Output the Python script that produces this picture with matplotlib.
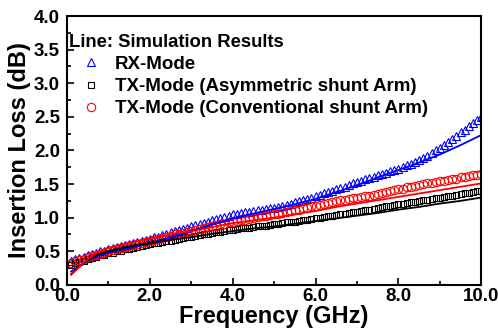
import numpy as np
import matplotlib
matplotlib.use("Agg")
import matplotlib.pyplot as plt
from matplotlib.ticker import MultipleLocator, FormatStrFormatter

plt.rcParams['font.family'] = ['Liberation Sans', 'DejaVu Sans']
plt.rcParams['font.weight'] = 'bold'

# measured points, 0.1 .. 10.0 GHz
freq_meas = np.round(np.arange(1, 101) * 0.1, 1)

rx_meas = [
    0.36, 0.38, 0.40, 0.42, 0.44, 0.46, 0.48, 0.50, 0.51, 0.53,
    0.55, 0.56, 0.58, 0.59, 0.61, 0.62, 0.64, 0.66, 0.67, 0.69,
    0.71, 0.72, 0.74, 0.76, 0.78, 0.80, 0.81, 0.83, 0.85, 0.87,
    0.89, 0.91, 0.92, 0.94, 0.96, 0.98, 1.00, 1.01, 1.03, 1.05,
    1.06, 1.07, 1.08, 1.09, 1.10, 1.11, 1.12, 1.13, 1.14, 1.15,
    1.16, 1.18, 1.19, 1.21, 1.23, 1.25, 1.26, 1.28, 1.30, 1.32,
    1.34, 1.36, 1.38, 1.40, 1.42, 1.44, 1.46, 1.49, 1.51, 1.53,
    1.55, 1.57, 1.59, 1.61, 1.63, 1.65, 1.67, 1.69, 1.71, 1.73,
    1.75, 1.78, 1.80, 1.83, 1.86, 1.89, 1.92, 1.96, 2.00, 2.04,
    2.08, 2.13, 2.17, 2.22, 2.27, 2.31, 2.36, 2.41, 2.45, 2.50,
]

tx_asym_meas = [
    0.30, 0.32, 0.34, 0.36, 0.38, 0.40, 0.42, 0.44, 0.45, 0.47,
    0.48, 0.50, 0.51, 0.53, 0.54, 0.55, 0.57, 0.58, 0.60, 0.61,
    0.62, 0.63, 0.64, 0.65, 0.66, 0.67, 0.68, 0.70, 0.71, 0.72,
    0.73, 0.74, 0.75, 0.76, 0.77, 0.78, 0.79, 0.80, 0.81, 0.82,
    0.83, 0.84, 0.84, 0.85, 0.86, 0.87, 0.88, 0.88, 0.89, 0.90,
    0.91, 0.92, 0.93, 0.93, 0.94, 0.95, 0.96, 0.97, 0.98, 0.99,
    1.00, 1.01, 1.02, 1.03, 1.04, 1.05, 1.06, 1.07, 1.08, 1.09,
    1.10, 1.11, 1.12, 1.13, 1.15, 1.16, 1.17, 1.18, 1.19, 1.20,
    1.21, 1.22, 1.23, 1.24, 1.25, 1.26, 1.27, 1.28, 1.29, 1.30,
    1.31, 1.32, 1.33, 1.34, 1.35, 1.36, 1.37, 1.38, 1.39, 1.40,
]

tx_conv_meas = [
    0.33, 0.35, 0.37, 0.39, 0.41, 0.43, 0.45, 0.46, 0.48, 0.50,
    0.52, 0.53, 0.55, 0.56, 0.58, 0.59, 0.61, 0.63, 0.64, 0.66,
    0.67, 0.69, 0.70, 0.72, 0.73, 0.75, 0.76, 0.77, 0.79, 0.80,
    0.81, 0.83, 0.84, 0.86, 0.87, 0.88, 0.90, 0.91, 0.93, 0.94,
    0.95, 0.96, 0.97, 0.98, 1.00, 1.01, 1.02, 1.03, 1.04, 1.05,
    1.06, 1.07, 1.08, 1.10, 1.11, 1.12, 1.14, 1.15, 1.17, 1.18,
    1.19, 1.21, 1.22, 1.23, 1.25, 1.26, 1.27, 1.28, 1.29, 1.30,
    1.31, 1.32, 1.33, 1.34, 1.35, 1.36, 1.38, 1.39, 1.41, 1.42,
    1.43, 1.45, 1.46, 1.47, 1.49, 1.50, 1.51, 1.52, 1.53, 1.54,
    1.55, 1.56, 1.57, 1.58, 1.60, 1.61, 1.62, 1.63, 1.64, 1.65,
]

# simulation results (lines)
freq_sim = [0.1, 0.3, 0.5, 0.7, 1.0, 1.5, 2.0, 2.5, 3.0, 3.5, 4.0, 4.5,
            5.0, 5.5, 6.0, 6.5, 7.0, 7.5, 8.0, 8.5, 9.0, 9.5, 10.0]
rx_sim = [0.20, 0.28, 0.36, 0.42, 0.48, 0.55, 0.62, 0.70, 0.80, 0.90, 0.99, 1.06,
          1.13, 1.20, 1.28, 1.38, 1.48, 1.60, 1.71, 1.82, 1.94, 2.08, 2.23]
tx_asym_sim = [0.16, 0.27, 0.37, 0.44, 0.50, 0.57, 0.62, 0.67, 0.71, 0.76, 0.80, 0.84,
               0.87, 0.91, 0.95, 0.99, 1.03, 1.07, 1.12, 1.16, 1.21, 1.25, 1.30]
tx_conv_sim = [0.15, 0.27, 0.38, 0.47, 0.55, 0.63, 0.69, 0.75, 0.80, 0.86, 0.92, 0.96,
               1.00, 1.05, 1.10, 1.16, 1.21, 1.26, 1.31, 1.36, 1.41, 1.46, 1.51]

labels = ['RX-Mode', 'TX-Mode (Asymmetric shunt Arm)', 'TX-Mode (Conventional shunt Arm)']

fig = plt.figure(figsize=(4.98, 3.34), dpi=100)
ax = fig.add_axes([0.1345, 0.147, 0.832, 0.805])

ax.plot(freq_meas, rx_meas, linestyle='none', marker='^', ms=6, mfc='none',
        mec='blue', mew=0.8, label=labels[0])
ax.plot(freq_meas, tx_asym_meas, linestyle='none', marker='s', ms=5, mfc='none',
        mec='black', mew=0.8, label=labels[1])
ax.plot(freq_meas, tx_conv_meas, linestyle='none', marker='o', ms=6, mfc='none',
        mec='red', mew=0.8, label=labels[2])

ax.plot(freq_sim, rx_sim, color='blue', lw=1.3)
ax.plot(freq_sim, tx_asym_sim, color='black', lw=1.3)
ax.plot(freq_sim, tx_conv_sim, color='red', lw=1.3)

ax.set_xlim(0, 10)
ax.set_ylim(0, 4)
ax.xaxis.set_major_locator(MultipleLocator(2))
ax.xaxis.set_minor_locator(MultipleLocator(1))
ax.yaxis.set_major_locator(MultipleLocator(0.5))
ax.yaxis.set_minor_locator(MultipleLocator(0.25))
ax.xaxis.set_major_formatter(FormatStrFormatter('%.1f'))
ax.yaxis.set_major_formatter(FormatStrFormatter('%.1f'))
ax.tick_params(which='both', direction='in', top=False, right=False, width=1.2)
ax.tick_params(which='major', length=5, labelsize=13.5)
ax.tick_params(axis='x', which='major', pad=2)
ax.tick_params(axis='y', which='major', pad=5)
ax.tick_params(which='minor', length=3)
for s in ax.spines.values():
    s.set_linewidth(1.5)

ax.set_xlabel('Frequency (GHz)', fontsize=17, fontweight='bold', labelpad=0)
ax.set_ylabel('Insertion Loss (dB)', fontsize=17, fontweight='bold', labelpad=2)

leg = ax.legend(loc='upper left', bbox_to_anchor=(-0.005, 0.948), frameon=False,
                title='Line: Simulation Results', alignment='left',
                prop={'size': 13.5, 'weight': 'bold'}, handlelength=2.4,
                handletextpad=0.05, labelspacing=0.27, borderpad=0.1,
                borderaxespad=0.1, markerscale=1.0)
leg.get_title().set_fontsize(13.3)
leg.get_title().set_fontweight('bold')

fig.savefig('out.png', dpi=100)
